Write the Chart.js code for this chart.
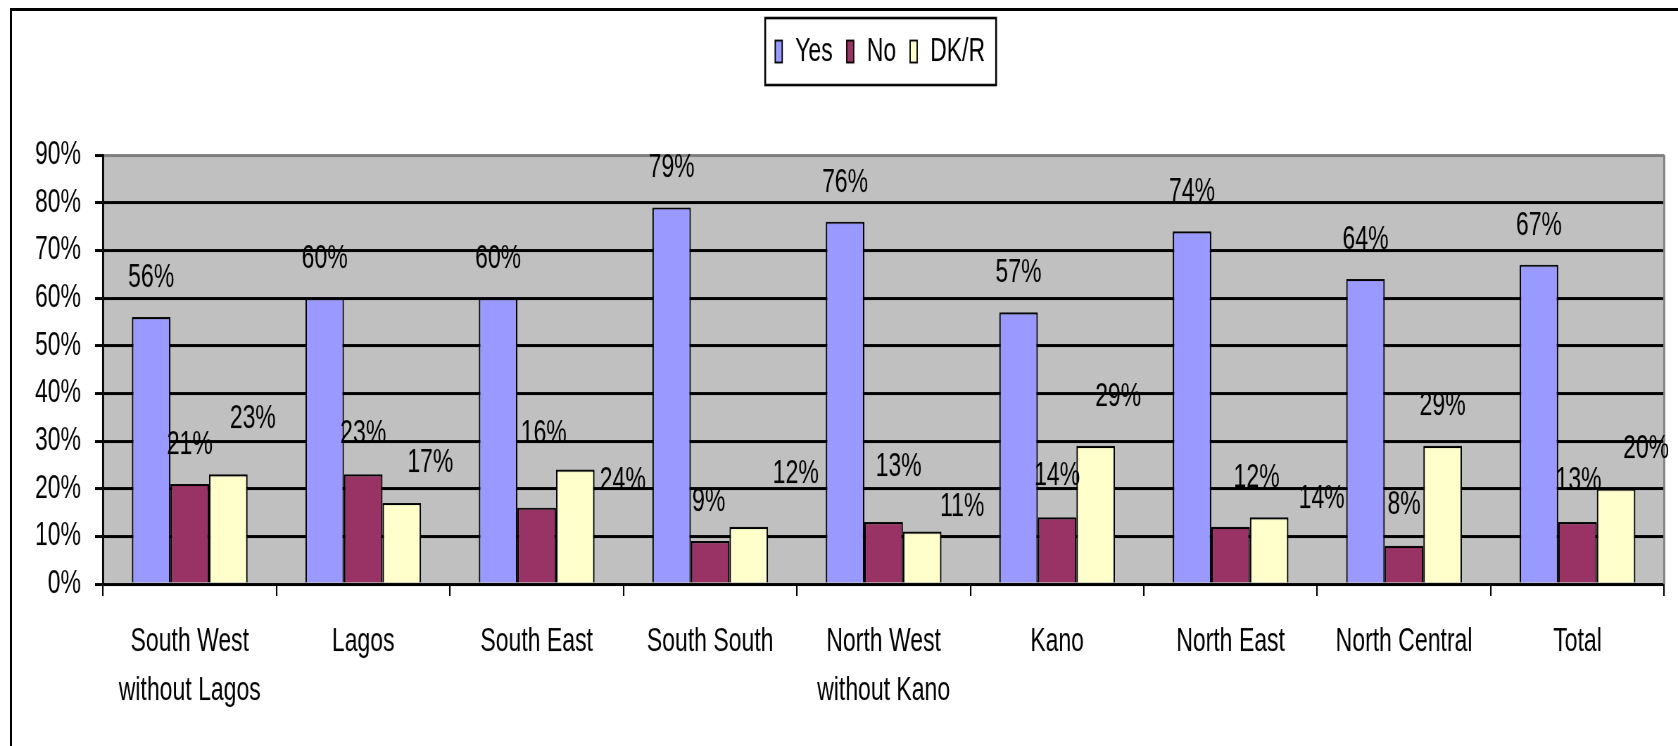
<!DOCTYPE html>
<html>
<head>
<meta charset="utf-8">
<title>Yes / No / DK/R by region</title>
<script src="https://cdn.jsdelivr.net/npm/chart.js@4.4.1/dist/chart.umd.min.js"></script>
<style>
  html, body { margin: 0; padding: 0; background: #fff; overflow: hidden; }
  #page { position: relative; width: 1678px; height: 746px; overflow: hidden; }
  #frame {
    position: absolute; left: 10px; top: 8px; width: 1720px; height: 800px;
    border-top: 3px solid #000; border-left: 2.5px solid #000;
  }
  #wrap {
    position: absolute; left: 0; top: 0; width: 1678px; height: 525px;
    transform: scaleY(1.421); transform-origin: 0 0;
  }
</style>
</head>
<body>
<div id="page">
  <div id="frame"></div>
  <div id="wrap"><canvas id="chart" width="1678" height="525"></canvas></div>
</div>
<script>
// Data
const categories = [
  ["South West", "without Lagos"], "Lagos", "South East", "South South",
  ["North West", "without Kano"], "Kano", "North East", "North Central", "Total"
];
const yesValues = [56, 60, 60, 79, 76, 57, 74, 64, 67];
const noValues  = [21, 23, 16,  9, 13, 14, 12,  8, 13];
const dkrValues = [23, 17, 24, 12, 11, 29, 14, 29, 20];
const yMax = 90;
const yStep = 10;

// Label nudges (page px, relative to the top centre of each bar)
const yesLabelDx = [0, 0, 0, 0, 0, 0, 0, 0, 0];
const yesLabelDy = [-39, -39, -39, -39, -39, -39, -39, -39, -39];
const noLabelDx  = [0, 0, 7, -1.5, 15, 0, 26, 0, 1];
const noLabelDy  = [-39, -40, -74, -39, -55, -41, -49, -41, -41];
const dkrLabelDx = [24.5, 28.5, 47.5, 47, 40, 22.5, 52.5, 0, 30];
const dkrLabelDy = [-55.5, -40, 11, -53, -24.5, -48.5, -18.7, -40, -40];

// The original picture is stretched vertically, so the chart is drawn
// squat and scaled back up with CSS.
const STRETCH = 746 / 525;
const FONT = "'Liberation Sans', Arial, sans-serif";

Chart.defaults.font.family = FONT;
Chart.defaults.color = "#000";

const labelDx = [yesLabelDx, noLabelDx, dkrLabelDx];
const labelDy = [yesLabelDy, noLabelDy, dkrLabelDy];

const plotBack = {
  id: "plotBack",
  beforeDraw(chart) {
    const { ctx, chartArea: a } = chart;
    ctx.save();
    ctx.fillStyle = "#C0C0C0";
    ctx.fillRect(a.left, a.top, a.right - a.left, a.bottom - a.top);
    ctx.restore();
  },
  beforeDatasetsDraw(chart) {
    const { ctx, chartArea: a } = chart;
    ctx.save();
    ctx.strokeStyle = "#808080";
    ctx.lineWidth = 2;
    ctx.beginPath();
    ctx.moveTo(a.right, a.top);
    ctx.lineTo(a.right, a.bottom);
    ctx.stroke();
    ctx.restore();
  }
};

const valueLabels = {
  id: "valueLabels",
  afterDatasetsDraw(chart) {
    const ctx = chart.ctx;
    ctx.save();
    ctx.font = "23px " + FONT;
    ctx.fillStyle = "#000";
    ctx.textAlign = "center";
    ctx.textBaseline = "middle";
    chart.data.datasets.forEach((ds, i) => {
      chart.getDatasetMeta(i).data.forEach((bar, j) => {
        const x = bar.x + labelDx[i][j];
        const y = bar.y + labelDy[i][j] / STRETCH;
        ctx.fillText(ds.data[j] + "%", x, y);
      });
    });
    ctx.restore();
  }
};

const boxLegend = {
  id: "boxLegend",
  afterDraw(chart) {
    const { ctx, chartArea: a } = chart;
    ctx.save();
    ctx.font = "23px " + FONT;
    const items = chart.data.datasets.map(ds => ({
      label: ds.label,
      color: ds.backgroundColor,
      w: ctx.measureText(ds.label).width
    }));
    const swW = 7, swH = 22 / STRETCH, gap = 13, spacing = 14, padL = 10, padR = 11;
    const rowW = items.reduce((s, it) => s + swW + gap + it.w, 0) + spacing * (items.length - 1);
    const boxW = rowW + padL + padR;
    const boxH = 67 / STRETCH;
    const cy = 51.5 / STRETCH;
    const left = (a.left + a.right) / 2 - boxW / 2 - 3;

    ctx.strokeStyle = "#000";
    ctx.lineWidth = 1.8;
    ctx.strokeRect(left, cy - boxH / 2, boxW, boxH);

    let x = left + padL;
    ctx.textAlign = "left";
    ctx.textBaseline = "middle";
    items.forEach(it => {
      ctx.fillStyle = it.color;
      ctx.fillRect(x, cy - swH / 2, swW, swH);
      ctx.lineWidth = 1.3;
      ctx.strokeRect(x, cy - swH / 2, swW, swH);
      x += swW + gap;
      ctx.fillStyle = "#000";
      ctx.fillText(it.label, x, cy);
      x += it.w + spacing;
    });
    ctx.restore();
  }
};

new Chart(document.getElementById("chart"), {
  type: "bar",
  data: {
    labels: categories,
    datasets: [
      { label: "Yes",  data: yesValues, backgroundColor: "#9999FF" },
      { label: "No",   data: noValues,  backgroundColor: "#993366" },
      { label: "DK/R", data: dkrValues, backgroundColor: "#FFFFCC" }
    ]
  },
  options: {
    responsive: false,
    animation: false,
    devicePixelRatio: STRETCH,
    layout: { padding: { top: 155 / STRETCH, right: 14, left: 0, bottom: 0 } },
    datasets: {
      bar: {
        categoryPercentage: 0.667,
        barPercentage: 1,
        borderColor: "#000",
        borderWidth: 1.5
      }
    },
    plugins: {
      legend: { display: false },
      tooltip: { enabled: false }
    },
    scales: {
      x: {
        grid: {
          drawOnChartArea: false,
          drawTicks: true,
          tickLength: 12 / STRETCH,
          color: "#000",
          lineWidth: 1.5,
          offset: true
        },
        border: { display: true, color: "#000", width: 2 },
        ticks: {
          autoSkip: false,
          maxRotation: 0,
          padding: 15,
          color: "#000",
          font: { size: 23, lineHeight: 1.5 }
        },
        afterFit(scale) { scale.height = 525 - 584 / STRETCH; }
      },
      y: {
        min: 0,
        max: yMax,
        ticks: {
          stepSize: yStep,
          padding: 14,
          color: "#000",
          font: { size: 23 },
          callback: v => v + "%"
        },
        grid: {
          color: c => (c.tick && c.tick.value === yMax ? "#808080" : "#000"),
          tickColor: "#000",
          lineWidth: 2.1,
          tickLength: 8
        },
        border: { display: true, color: "#000", width: 2 },
        afterFit(scale) { scale.width = 103; }
      }
    }
  },
  plugins: [plotBack, valueLabels, boxLegend]
});
</script>
</body>
</html>
